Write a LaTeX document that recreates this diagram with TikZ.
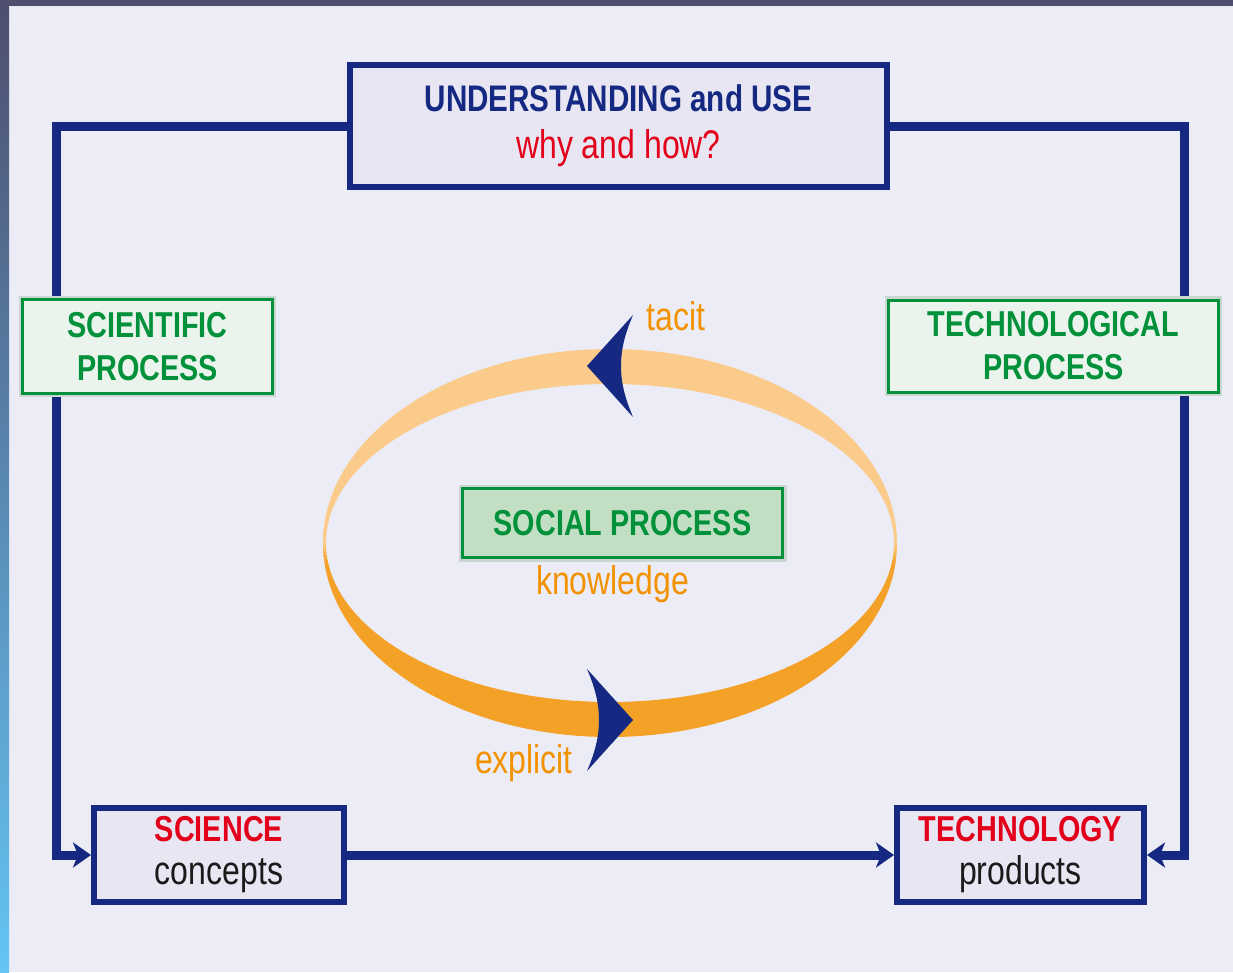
\documentclass[tikz,border=0pt]{standalone}
\usepackage{fontspec}
\setmainfont{Liberation Sans}[FakeStretch=0.8]
\usetikzlibrary{positioning,arrows.meta,backgrounds}

\definecolor{navy}{HTML}{162982}
\definecolor{hotred}{HTML}{E3001B}
\definecolor{procgreen}{HTML}{00913A}
\definecolor{procfill}{HTML}{EAF4EC}
\definecolor{socfill}{HTML}{C2DFC4}
\definecolor{halo}{HTML}{C9D6D2}
\definecolor{boxfill}{HTML}{E8E6F2}
\definecolor{pagebg}{HTML}{ECECF6}
\definecolor{ringlight}{HTML}{FBCB8B}
\definecolor{ringdark}{HTML}{F4A127}
\definecolor{tangerine}{HTML}{F39200}
\definecolor{inkgrey}{HTML}{1A1A1A}
\definecolor{edgetop}{HTML}{4E4E6E}
\definecolor{edgemid}{HTML}{7676A6}
\definecolor{edgebot}{HTML}{64C4F4}

\pgfdeclareverticalshading{ringfade}{100bp}{color(0bp)=(ringdark); color(47.5bp)=(ringdark); color(50bp)=(ringlight); color(100bp)=(ringlight)}

\begin{document}
\begin{tikzpicture}[x=1pt,y=-1pt]
\tikzset{box/.style={draw=navy, line width=6pt, fill=boxfill, align=center, inner sep=0pt}}
\tikzset{procbox/.style={draw=procgreen, line width=3pt, fill=procfill, align=center, inner sep=0pt, text=procgreen, font=\bfseries\fontsize{36}{43}\selectfont, preaction={draw=halo, line width=8pt}}}
\tikzset{link/.style={draw=navy, line width=9pt}, tip/.style={-{Stealth[length=18pt,width=25pt,inset=5pt]}}}
\tikzset{note/.style={text=tangerine, font=\fontsize{40}{48}\selectfont, inner sep=0pt, anchor=base}}
\tikzset{ringhead/.pic={\fill[navy] (23,0) -- (-23,-51) .. controls (-14,-30) and (-11,-15) .. (-11,0) .. controls (-11,15) and (-14,30) .. (-23,51) -- cycle;}}

\useasboundingbox (0,0) rectangle (1233,972);
\begin{scope}[on background layer]
\fill[pagebg] (0,0) rectangle (1233,972);
\shade[top color=edgetop, middle color=edgemid, bottom color=edgebot] (0,0) rectangle (9,972);
\fill[edgetop] (0,0) rectangle (1233,6);
\end{scope}

\node[box, minimum width=537pt, minimum height=122pt, font=\fontsize{37}{47}\selectfont] (under) at (618.5,126) {{\bfseries\color{navy}UNDERSTANDING and USE}\\{\color{hotred}\fontsize{40}{47}\selectfont why and how?}};
\node[box, minimum width=250pt, minimum height=94pt, font=\fontsize{40}{43}\selectfont, text=inkgrey] (science) at (219,855) {{\bfseries\fontsize{36}{43}\selectfont\color{hotred}SCIENCE}\\concepts};
\node[box, minimum width=247pt, minimum height=94pt, font=\fontsize{40}{43}\selectfont, text=inkgrey] (techno) at (1020.5,855) {{\bfseries\fontsize{36}{43}\selectfont\color{hotred}TECHNOLOGY}\\products};

\node[procbox, minimum width=249.5pt, minimum height=93.5pt] (sci) at (147.5,346.5) {SCIENTIFIC\\PROCESS};
\node[procbox, minimum width=329.5pt, minimum height=92pt] (tech) at (1053.5,346) {TECHNOLOGICAL\\PROCESS};
\node[procbox, fill=socfill, minimum width=320pt, minimum height=69pt] (social) at (622.5,523) {SOCIAL PROCESS};

\shade[shading=ringfade, even odd rule] (610,543) ellipse [x radius=287pt, y radius=194pt] (610,543) ellipse [x radius=284pt, y radius=159pt];
\pic[rotate=180] at (610,366) {ringhead};
\pic at (610,720) {ringhead};

\node[note] (tacit) at (676,330) {tacit};
\node[note] (explicit) at (524,773) {explicit};
\node[note, below=6pt of social, xshift=-10pt] (know) {knowledge};

\begin{scope}[on background layer]
\coordinate (lfoot) at (56.5,855);
\coordinate (rfoot) at (1184.5,855);
\draw[link, tip] (under.west) -| (lfoot) -- (science.west);
\draw[link, tip] (under.east) -| (rfoot) -- (techno.east);
\draw[link, tip] (science.east) -- (techno.west);
\end{scope}
\end{tikzpicture}
\end{document}
